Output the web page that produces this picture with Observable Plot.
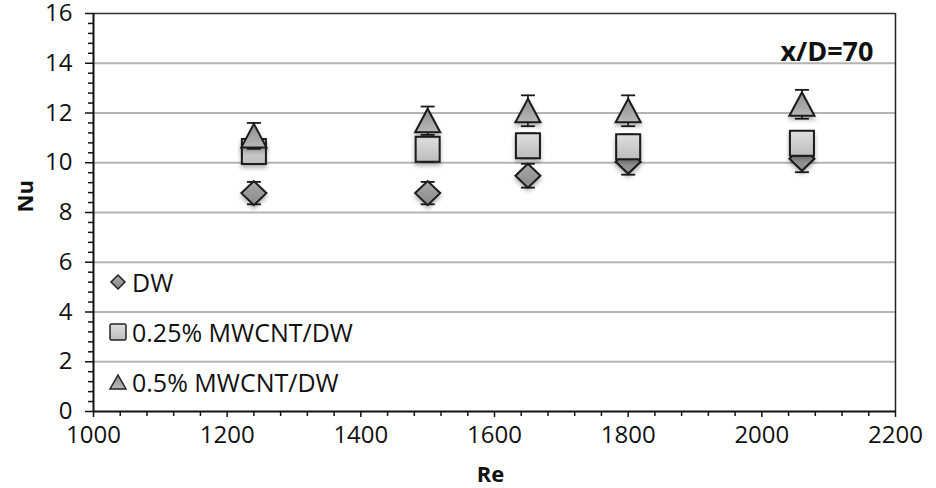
<!DOCTYPE html>
<html>
<head>
<meta charset="utf-8">
<script src="https://cdn.jsdelivr.net/npm/d3@7"></script>
<script src="https://cdn.jsdelivr.net/npm/@observablehq/plot@0.6"></script>
<style>
  body { margin: 0; background: #fff; }
  #wrap { position: relative; width: 936px; height: 488px; font-family: "Open Sans", sans-serif; }
  #legend { position: absolute; left: 108px; top: 268px; font-size: 25px; color: #111; }
  .item { position: absolute; left: 0; display: flex; align-items: center; white-space: nowrap; }
  .item svg { display: block; }
</style>
</head>
<body>
<div id="wrap"></div>
<script>
// ---- data ----
const re = [1240, 1500, 1650, 1800, 2060];
const seriesNames = ["DW", "0.25% MWCNT/DW", "0.5% MWCNT/DW"];
const nuDW = [8.78, 8.78, 9.48, 10.04, 10.16];
const errDW = [0.45, 0.45, 0.48, 0.52, 0.54];
const nu025 = [10.45, 10.54, 10.68, 10.64, 10.78];
const err025 = [0.5, 0.5, 0.5, 0.5, 0.5];
const nu05 = [11.08, 11.69, 12.09, 12.09, 12.35];
const err05 = [0.52, 0.57, 0.62, 0.62, 0.58];
const xTicks = [1000, 1200, 1400, 1600, 1800, 2000, 2200];
const yTicks = [0, 2, 4, 6, 8, 10, 12, 14, 16];
const annotation = "x/D=70";

const rows = (vals, errs, s) => re.map((x, i) => ({x, y: vals[i], lo: vals[i] - errs[i], hi: vals[i] + errs[i], s}));
const dDW = rows(nuDW, errDW, seriesNames[0]);
const d025 = rows(nu025, err025, seriesNames[1]);
const d05 = rows(nu05, err05, seriesNames[2]);

// ---- custom symbols ----
const diamondSym = {draw(c) { c.moveTo(0, -12); c.lineTo(12.5, 0); c.lineTo(0, 12); c.lineTo(-12.5, 0); c.closePath(); }};
const squareSym = {draw(c) { c.moveTo(-12, -12.5); c.lineTo(12, -12.5); c.lineTo(12, 12.5); c.lineTo(-12, 12.5); c.closePath(); }};
const triSym = {draw(c) { c.moveTo(0, -12); c.lineTo(12.5, 11.5); c.lineTo(-12.5, 11.5); c.closePath(); }};
const capSym = {draw(c) { c.moveTo(-7, 0); c.lineTo(7, 0); }};

const minorX = d3.range(1000, 2200.1, 40).filter(v => v % 200 !== 0);
const minorY = d3.range(0, 16.01, 0.4).map(v => +v.toFixed(2)).filter(v => Math.abs(v / 2 - Math.round(v / 2)) > 1e-6);

const errMarks = (data) => [
  Plot.ruleX(data, {x: "x", y1: "lo", y2: "hi", stroke: "#1a1a1a", strokeWidth: 1.6}),
  Plot.dot(data, {x: "x", y: "hi", symbol: capSym, stroke: "#1a1a1a", strokeWidth: 1.8, fill: "none"}),
  Plot.dot(data, {x: "x", y: "lo", symbol: capSym, stroke: "#1a1a1a", strokeWidth: 1.8, fill: "none"})
];

const fmt = d => `${d}`;

const chart = Plot.plot({
  width: 936,
  height: 488,
  marginLeft: 93,
  marginRight: 41,
  marginTop: 13,
  marginBottom: 77,
  style: {fontFamily: "Open Sans, sans-serif", fontSize: "24px", background: "#fff", color: "#111", overflow: "visible"},
  x: {domain: [1000, 2200]},
  y: {domain: [0, 16]},
  marks: [
    Plot.gridY(yTicks.filter(v => v > 0 && v < 16), {stroke: "#b4b4b4", strokeOpacity: 1, strokeWidth: 2}),
    Plot.ruleY([16], {stroke: "#333", strokeWidth: 1.5}),
    Plot.ruleX([2200], {stroke: "#222", strokeWidth: 1.5}),
    Plot.axisY(minorY, {tickSize: 5, text: null, label: null, stroke: "#111", strokeWidth: 1.5}),
    Plot.axisX(minorX, {tickSize: 5, text: null, label: null, stroke: "#111", strokeWidth: 1.5}),
    Plot.axisY(yTicks, {tickSize: 8, text: null, label: null, stroke: "#111", strokeWidth: 1.5}),
    Plot.axisX(xTicks, {tickSize: 6, text: null, label: null, stroke: "#111", strokeWidth: 1.5}),
    // tick labels through the scales
    Plot.text(yTicks, {y: d => d, text: fmt, frameAnchor: "left", dx: -21, textAnchor: "end", fontSize: 24, fill: "#111"}),
    Plot.text(xTicks, {x: d => d, text: fmt, frameAnchor: "bottom", dy: 31, fontSize: 24, fill: "#111"}),
    Plot.ruleX([1000], {stroke: "#111", strokeWidth: 2}),
    Plot.ruleY([0], {stroke: "#111", strokeWidth: 2}),
    Plot.text(["Nu"], {frameAnchor: "left", dx: -68, rotate: -90, fontWeight: "bold", fontSize: 22, fill: "#111"}),
    Plot.text(["Re"], {frameAnchor: "bottom", dy: 63, dx: -4, fontWeight: "bold", fontSize: 22, fill: "#111", lineAnchor: "middle"}),
    Plot.text([annotation], {frameAnchor: "top-right", dx: -22, dy: 28, fontWeight: "bold", fontSize: 27, fill: "#111", textAnchor: "end"}),
    ...errMarks(dDW),
    Plot.dot(dDW, {x: "x", y: "y", symbol: diamondSym, fill: "url(#gDia)", stroke: "#1a1a1a", strokeWidth: 2}),
    ...errMarks(d025),
    Plot.dot(d025, {x: "x", y: "y", symbol: squareSym, fill: "url(#gSq)", stroke: "#1a1a1a", strokeWidth: 2}),
    ...errMarks(d05),
    Plot.dot(d05, {x: "x", y: "y", symbol: triSym, fill: "url(#gTri)", stroke: "#1a1a1a", strokeWidth: 2})
  ]
});

// gradients & shadow
const defs = d3.select(chart).insert("defs", ":first-child");
const grad = (id, c1, c2) => {
  const g = defs.append("linearGradient").attr("id", id).attr("x1", 0).attr("y1", 0).attr("x2", 0).attr("y2", 1);
  g.append("stop").attr("offset", "0%").attr("stop-color", c1);
  g.append("stop").attr("offset", "100%").attr("stop-color", c2);
};
grad("gDia", "#a8a8a8", "#8a8a8a");
grad("gSq", "#dedede", "#bdbdbd");
grad("gTri", "#8e8e8e", "#b8b8b8");
const f = defs.append("filter").attr("id", "shadow").attr("x", "-50%").attr("y", "-50%").attr("width", "200%").attr("height", "200%");
f.append("feDropShadow").attr("dx", 0).attr("dy", 3).attr("stdDeviation", 2).attr("flood-color", "#000").attr("flood-opacity", 0.3);
d3.select(chart).selectAll("path").each(function () {
  const fl = this.getAttribute("fill") || (this.parentNode && this.parentNode.getAttribute && this.parentNode.getAttribute("fill")) || "";
  if (fl.startsWith("url(#g")) this.setAttribute("filter", "url(#shadow)");
});

const wrap = document.getElementById("wrap");
wrap.appendChild(chart);

// legend (inside plot area)
const legend = document.createElement("div");
legend.id = "legend";
const icons = [
  `<svg width="20" height="20" viewBox="-10 -10 20 20"><path d="M0,-7L7,0L0,7L-7,0Z" fill="url(#gDia)" stroke="#222" stroke-width="1.5"/></svg>`,
  `<svg width="20" height="20" viewBox="-10 -10 20 20"><rect x="-8" y="-8" width="16" height="16" rx="1.5" fill="url(#gSq)" stroke="#222" stroke-width="1.5"/></svg>`,
  `<svg width="20" height="20" viewBox="-10 -10 20 20"><path d="M0,-7L8,7L-8,7Z" fill="url(#gTri)" stroke="#222" stroke-width="1.5"/></svg>`
];
const tops = [-3, 47, 97];
seriesNames.forEach((name, i) => {
  const it = document.createElement("div");
  it.className = "item";
  it.style.top = tops[i] + "px";
  it.innerHTML = icons[i] + `<span style="margin-left:4px">${name}</span>`;
  legend.appendChild(it);
});
wrap.appendChild(legend);
</script>
</body>
</html>
